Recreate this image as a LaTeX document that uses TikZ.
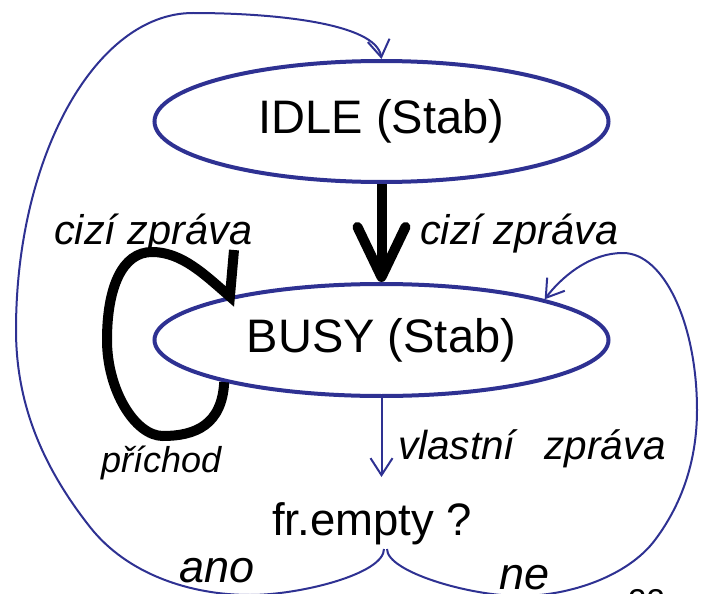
\documentclass[tikz,border=0pt]{standalone}
\usepackage{fontspec}
\setmainfont{Liberation Sans}
\usetikzlibrary{shapes.geometric,arrows.meta}
\definecolor{navy}{RGB}{46,49,146}
\begin{document}
\begin{tikzpicture}[x=1pt,y=-1pt,
  state/.style={ellipse, draw=navy, line width=4pt, inner sep=0pt, minimum width=454pt, font=\fontsize{47}{52}\selectfont},
  lblit/.style={inner sep=0pt, anchor=base west, font=\itshape\fontsize{41.5}{46}\selectfont},
  lblbig/.style={inner sep=0pt, anchor=base west, font=\itshape\fontsize{45}{50}\selectfont},
  plain/.style={inner sep=0pt, anchor=base west, font=\fontsize{45.5}{50}\selectfont},
  thinarrow/.style={draw=navy, line width=2pt, -{Straight Barb[length=17pt,width=22pt]}},
  bigarrow/.style={line width=10pt, -{Straight Barb[length=50pt,width=48pt,round]}},
  selfloop/.style={line width=10pt}
]
\useasboundingbox (0,0) rectangle (705,594);

\node[state, minimum height=121pt] (idle) at (381.5,121.5) {IDLE (Stab)};
\node[state, minimum height=112pt] (busy) at (381.5,340) {BUSY (Stab)};

\node[lblit] (c1) at (420,244) {cizí zpráva};
\node[lblit] (c2) at (54,244) {cizí zpráva};
\node[lblit, font=\itshape\fontsize{40.5}{44}\selectfont] (vz) at (398,459) {vlastní\hspace{29pt}zpráva};
\node[lblit, font=\itshape\fontsize{36}{40}\selectfont] (pr) at (101,472) {příchod};
\node[plain] (q) at (272,535) {fr.empty ?};
\node[lblbig] (ano) at (179,582) {ano};
\node[lblbig] (ne) at (499,589) {ne};
\node[inner sep=0pt, anchor=base west, font=\fontsize{33}{36}\selectfont] (pg) at (628,612) {22};

\coordinate (jl) at (384,549);
\coordinate (jr) at (387,549);
\coordinate (vtip) at (381.5,477);
\coordinate (barb) at (234,250);

% thick arrow IDLE -> BUSY
\draw[bigarrow] (idle.south) -- (busy.north);

% self loop on BUSY
\draw[selfloop] (busy.195) .. controls (222,425) and (195,436) .. (163,436)
  .. controls (135,436) and (107,390) .. (107,340)
  .. controls (107,288) and (122,252) .. (152,252)
  .. controls (182,252) and (205,275) .. (busy.164) -- (barb);

% own message
\draw[thinarrow] (busy.south) -- (vtip);

% ano -> IDLE
\draw[thinarrow] (jl) .. controls (384,574) and (300,595) .. (250,595)
  .. controls (190,595) and (127,574) .. (90,527)
  .. controls (43.5,468) and (16,405) .. (16,330)
  .. controls (16,156) and (96,13) .. (193,13)
  .. controls (273,13) and (376,23) .. (idle.north);

% ne -> BUSY
\draw[thinarrow] (jr) .. controls (387,572) and (470,596) .. (520,596)
  .. controls (570,596) and (628,576) .. (655,540)
  .. controls (685,500) and (697,455) .. (697,410)
  .. controls (697,324) and (664,253) .. (623,253)
  .. controls (588,253) and (559.5,279.5) .. (busy.14);
\end{tikzpicture}
\end{document}
